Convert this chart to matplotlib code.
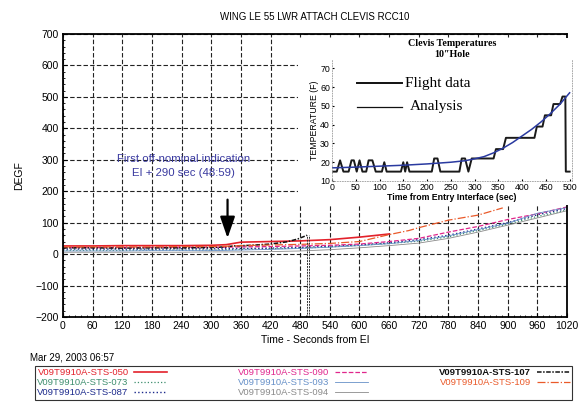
import matplotlib
matplotlib.use("Agg")
import matplotlib.pyplot as plt
import matplotlib.patches as mpatches
from matplotlib.ticker import MultipleLocator, AutoMinorLocator

plt.rcParams['font.family'] = ['Liberation Sans', 'DejaVu Sans']
SERIF = ['Liberation Serif', 'DejaVu Serif']

# main chart: time (s from EI) and temperature (deg F) per flight
t_main = [0, 60, 120, 180, 240, 300, 330, 360, 420, 480, 540, 600, 660, 720, 780, 840, 900, 960, 1020]
sts050 = [26, 26, 27, 27, 27, 28, 30, 38, 40, 42, 46, 54, 64]
sts073 = [12, 12, 12, 13, 13, 13, 14, 15, 17, 19, 23, 28, 34, 41, 55, 75, 95, 120, 140]
sts087 = [16, 16, 16, 16, 17, 17, 17, 18, 19, 21, 25, 29, 36, 46, 60, 80, 100, 125, 145]
sts090 = [21, 21, 21, 21, 22, 22, 22, 23, 24, 26, 28, 32, 40, 50, 70, 88, 110, 128, 150]
sts093 = [10, 10, 10, 11, 11, 11, 12, 13, 15, 18, 22, 27, 33, 43, 58, 78, 98, 130, 148]
sts094 = [6, 6, 6, 6, 6, 7, 7, 7, 8, 10, 14, 20, 27, 35, 50, 70, 92, 115, 138]
t_107 = [0, 60, 120, 180, 240, 300, 330, 345, 380, 420, 453, 475, 494]
sts107 = [20, 20, 19, 20, 20, 21, 23, 26, 28, 32, 39, 48, 60]
t_109 = [0, 60, 120, 180, 240, 300, 330, 360, 420, 480, 540, 600, 660, 700, 720, 780, 840, 890]
sts109 = [23, 23, 23, 23, 24, 24, 25, 27, 29, 31, 34, 40, 62, 75, 84, 108, 124, 147]

flights = [
    ("V09T9910A-STS-050", t_main[:len(sts050)], sts050, "#e3212b", "-", 1.2, "normal"),
    ("V09T9910A-STS-073", t_main, sts073, "#3f8f6f", ":", 0.9, "normal"),
    ("V09T9910A-STS-087", t_main, sts087, "#1c2a8c", ":", 1.0, "normal"),
    ("V09T9910A-STS-090", t_main, sts090, "#e0268c", "--", 0.9, "normal"),
    ("V09T9910A-STS-093", t_main, sts093, "#6690c8", "-", 0.6, "normal"),
    ("V09T9910A-STS-094", t_main, sts094, "#8a8a8a", "-", 0.6, "normal"),
    ("V09T9910A-STS-107", t_107, sts107, "#111111", (0, (3, 1, 1, 1)), 1.1, "bold"),
    ("V09T9910A-STS-109", t_109, sts109, "#ea5a2a", "-.", 0.9, "normal"),
]

# inset: clevis temperatures at the 10" hole
flight_t = [0, 10, 17, 24, 35, 41, 46, 52, 58, 64, 72, 77, 85, 92, 105, 110, 115, 145, 150,
            154, 158, 163, 210, 215, 222, 228, 268, 273, 280, 287, 294, 340, 345, 360, 366,
            426, 431, 443, 448, 461, 466, 480, 485, 491, 492, 500]
flight_v = [15, 15, 21, 15, 15, 21, 21, 15, 21, 15, 15, 21, 21, 15, 15, 20, 15, 15, 20,
            15, 20, 15, 15, 22, 22, 15, 15, 22, 22, 15, 22, 22, 27, 27, 33,
            33, 39, 39, 45, 45, 51, 51, 55, 55, 15, 15]
analysis_t = [0, 50, 100, 150, 200, 250, 280, 300, 320, 340, 360, 380, 400, 420, 440, 460, 480, 500]
analysis_v = [17, 17.4, 17.9, 18.4, 19.1, 20, 20.8, 21.8, 23, 25, 27.5, 30.5, 34, 37.5, 41.5, 46, 51, 57]

fig = plt.figure(figsize=(5.82, 4.07), dpi=100)
W, H = 582.0, 407.0

ax = fig.add_axes([63 / W, 1 - 317 / H, 504 / W, 283 / H])
ax.set_xlim(0, 1020)
ax.set_ylim(-200, 700)
ax.xaxis.set_major_locator(MultipleLocator(60))
ax.yaxis.set_major_locator(MultipleLocator(100))
ax.xaxis.set_minor_locator(AutoMinorLocator(5))
ax.yaxis.set_minor_locator(AutoMinorLocator(5))
ax.tick_params(which='both', direction='in', labelsize=7.5, length=3, pad=3)
ax.tick_params(which='minor', length=1.5)
ax.grid(True, which='major', color='#222222', linestyle=(0, (4, 2)), linewidth=0.8)
for s in ax.spines.values():
    s.set_linestyle((0, (1, 1)))
    s.set_linewidth(1.3)

for label, tt, vv, col, ls, lw, wt in flights:
    ax.plot(tt, vv, color=col, linestyle=ls, linewidth=lw, label=label)

ax.axvline(493, ymin=0, ymax=(60 + 200) / 900, color='#333333', linestyle=(0, (2, 1)), linewidth=0.7)
ax.axvline(497, ymin=0, ymax=(60 + 200) / 900, color='#333333', linestyle=(0, (2, 1)), linewidth=0.7)

ax.annotate("", xy=(333, 42), xytext=(333, 182),
            arrowprops=dict(arrowstyle='-|>,head_width=0.45,head_length=1.3',
                            color='black', lw=1.6))
ax.text(243, 280, "First off-nominal indication\nEI + 290 sec (48:59)", color='#3a3aa0',
        fontsize=8.2, ha='center', va='center', linespacing=1.5)

ax.set_title("WING LE 55 LWR ATTACH CLEVIS RCC10", fontsize=7, pad=10)
ax.set_xlabel("Time - Seconds from EI", fontsize=7.5, labelpad=3)
ax.set_ylabel("DEGF", fontsize=7.5, labelpad=8)

fig.text(30 / W, 1 - 357 / H, "Mar 29, 2003 06:57", fontsize=7, va='center')

# white panel behind the inset
fig.patches.append(mpatches.Rectangle((298 / W, 1 - 205 / H), 284 / W, 167 / H,
                                      transform=fig.transFigure, facecolor='white',
                                      edgecolor='none', zorder=0.5))

ins = fig.add_axes([332 / W, 1 - 181 / H, 240 / W, 122 / H], zorder=1)
ins.set_facecolor('none')
ins.plot(flight_t, flight_v, color='#1a1a1a', linewidth=1.4)
ins.plot(analysis_t, analysis_v, color='#2a3aa0', linewidth=1.1)
ins.set_xlim(0, 505)
ins.set_ylim(10, 75)
ins.xaxis.set_major_locator(MultipleLocator(50))
ins.set_yticks([10, 20, 30, 40, 50, 60, 70])
ins.tick_params(direction='in', labelsize=6.3, length=1.5, pad=1.5)
for s in ins.spines.values():
    s.set_linestyle((0, (1, 2)))
    s.set_linewidth(0.6)
    s.set_color('#999999')
ins.spines['top'].set_visible(False)
ins.set_xlabel("Time from Entry Interface (sec)", fontsize=6.3, fontweight='bold', labelpad=0.5)
ins.set_ylabel("TEMPERATURE (F)", fontsize=6.3, labelpad=1)
ins.set_title("Clevis Temperatures\n10\u2033Hole", fontsize=7.2, fontweight='bold',
              family=SERIF, pad=0, linespacing=1.35)

# hand-placed legend inside the inset
ins.plot([0.104, 0.292], [0.803, 0.803], transform=ins.transAxes, color='#111111', lw=1.4)
ins.plot([0.104, 0.292], [0.607, 0.607], transform=ins.transAxes, color='#111111', lw=0.9)
ins.text(0.305, 0.803, "Flight data", transform=ins.transAxes, family=SERIF, fontsize=11,
         va='center')
ins.text(0.325, 0.607, "Analysis", transform=ins.transAxes, family=SERIF, fontsize=11,
         va='center')

handles, labels = ax.get_legend_handles_labels()
leg = fig.legend(handles, labels, loc='upper left', ncol=3, mode='expand',
                 bbox_to_anchor=(35 / W, 1 - 402 / H, 537 / W, 36 / H), borderaxespad=0,
                 markerfirst=False, fontsize=6.8, handlelength=3.5, handletextpad=0.6,
                 labelspacing=0.1, borderpad=0.25, fancybox=False, columnspacing=1.0)
leg.get_frame().set_edgecolor('black')
leg.get_frame().set_linewidth(0.8)
for txt, f in zip(leg.get_texts(), flights):
    txt.set_color(f[3])
    txt.set_fontweight(f[6])

fig.savefig("out.png", dpi=100)
